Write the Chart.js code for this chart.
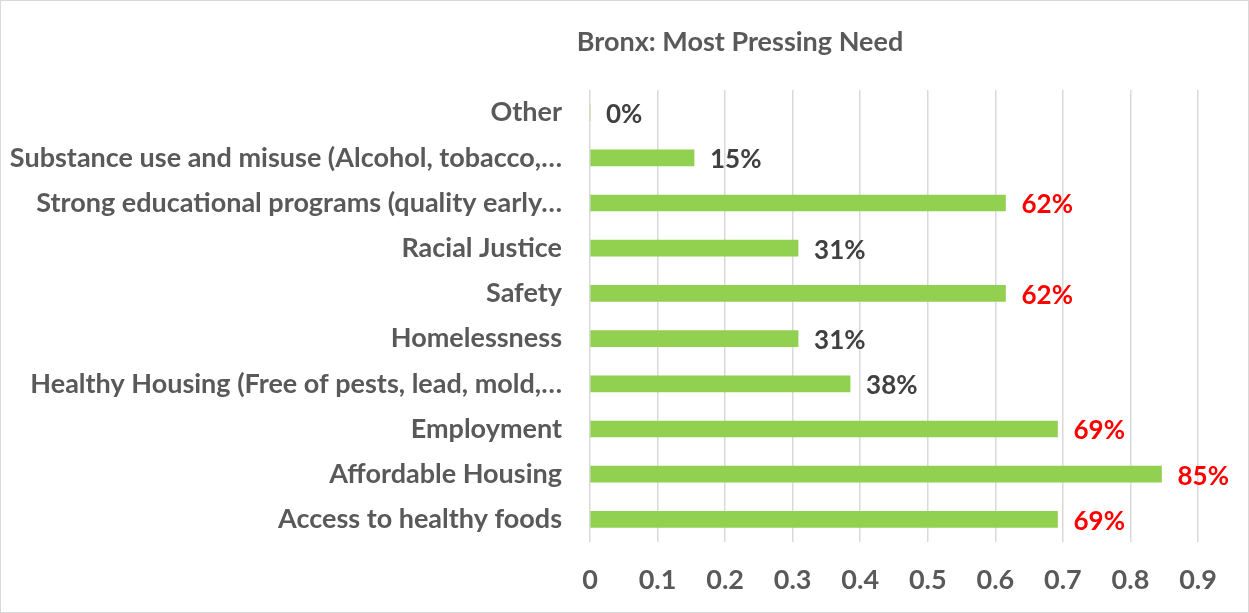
<!DOCTYPE html>
<html>
<head>
<meta charset="utf-8">
<script src="https://cdn.jsdelivr.net/npm/chart.js@4"></script>
<style>
html,body{margin:0;padding:0;background:#fff;}
#wrap{position:relative;width:1247px;height:611px;border:1px solid #d9d9d9;}
canvas{display:block;}
</style>
</head>
<body>
<div id="wrap"><canvas id="c" width="1247" height="611"></canvas></div>
<script>
const categories = [
  "Other",
  "Substance use and misuse (Alcohol, tobacco,…",
  "Strong educational programs (quality early…",
  "Racial Justice",
  "Safety",
  "Homelessness",
  "Healthy Housing (Free of pests, lead, mold,…",
  "Employment",
  "Affordable Housing",
  "Access to healthy foods"
];
const values = [0, 0.154, 0.615, 0.308, 0.615, 0.308, 0.385, 0.692, 0.846, 0.692];
const valueLabels = ["0%", "15%", "62%", "31%", "62%", "31%", "38%", "69%", "85%", "69%"];
const tickValues = [0, 0.1, 0.2, 0.3, 0.4, 0.5, 0.6, 0.7, 0.8, 0.9];
const titleText = "Bronx: Most Pressing Need";

const FONT = "Lato, 'Open Sans', sans-serif";

const labelPlugin = {
  id: 'valueLabels',
  afterDatasetsDraw(chart) {
    const ctx = chart.ctx;
    const meta = chart.getDatasetMeta(0);
    ctx.save();
    ctx.font = "bold 26px " + FONT;
    ctx.textBaseline = 'middle';
    ctx.textAlign = 'left';
    meta.data.forEach((bar, i) => {
      const v = values[i];
      ctx.fillStyle = v >= 0.6 ? '#FF0000' : '#404040';
      ctx.fillText(valueLabels[i], bar.x + 16, bar.y + 2);
    });
    ctx.restore();
  }
};

const titlePlugin = {
  id: 'offsetTitle',
  afterDraw(chart) {
    const ctx = chart.ctx;
    ctx.save();
    ctx.font = "bold 27px " + FONT;
    ctx.fillStyle = '#595959';
    ctx.textAlign = 'center';
    ctx.textBaseline = 'middle';
    ctx.fillText(titleText, 739, 41);
    ctx.restore();
  }
};

new Chart(document.getElementById('c'), {
  type: 'bar',
  data: {
    labels: categories,
    datasets: [{
      data: values,
      backgroundColor: '#92D050',
      borderWidth: 0,
      barThickness: 16
    }]
  },
  options: {
    indexAxis: 'y',
    responsive: false,
    animation: false,
    layout: { padding: { left: 0, right: 50, top: 89, bottom: 0 } },
    plugins: {
      legend: { display: false },
      tooltip: { enabled: false },
      title: { display: false }
    },
    scales: {
      x: {
        min: 0,
        max: 0.9,
        afterBuildTicks(scale) { scale.ticks = tickValues.map(v => ({ value: v })); },
        afterFit(scale) { scale.height = 611 - 541; },
        grid: { color: '#d9d9d9', lineWidth: 1.5, drawTicks: false },
        border: { display: false },
        ticks: {
          color: '#595959',
          padding: 22,
          font: { family: FONT, size: 27, weight: 'bold' },
          callback: (v) => String(Math.round(v * 10) / 10)
        }
      },
      y: {
        afterFit(scale) { scale.width = 589; },
        grid: { display: false, drawTicks: false },
        border: { display: false },
        ticks: {
          color: '#595959',
          padding: 28,
          font: { family: FONT, size: 27, weight: 'bold' }
        }
      }
    }
  },
  plugins: [labelPlugin, titlePlugin]
});
</script>
</body>
</html>
